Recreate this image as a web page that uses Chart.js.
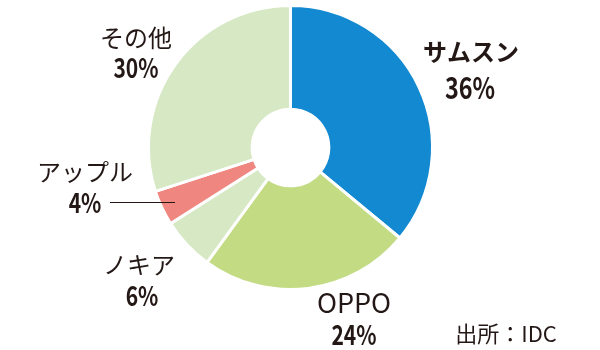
<!DOCTYPE html>
<html>
<head>
<meta charset="utf-8">
<script src="https://cdn.jsdelivr.net/npm/chart.js@4.4.0/dist/chart.umd.min.js"></script>
<style>
    html, body { margin: 0; padding: 0; background: #fff; }
    #wrap { width: 600px; height: 350px; position: relative; }
</style>
</head>
<body>
<div id="wrap"><canvas id="shareChart"></canvas></div>
<script>
const companies = ['サムスン', 'OPPO', 'ノキア', 'アップル', 'その他'];
const shares = [36, 24, 6, 4, 30];
const sliceColors = ['#1289d0', '#c3dc84', '#d6e8c4', '#ef8680', '#d6e8c4'];
const sourceNote = '出所：IDC';

const TEXT = '#231815';
const JP = '"Noto Sans CJK JP", "Noto Sans", sans-serif';

// label spots for each slice: [name x, name y, pct x, pct y]
const labelSpots = [
    [471, 52, 470, 88],
    [354, 303, 354, 335],
    [139, 265, 142, 296],
    [85, 172, 85, 203],
    [136, 38, 136, 68]
];

// condensed percent text: squeeze horizontally
function narrowText(ctx, str, x, y, squeeze) {
    ctx.save();
    ctx.translate(x, y);
    ctx.scale(squeeze, 1);
    ctx.fillText(str, 0, 0);
    ctx.restore();
}

const labelPlugin = {
    id: 'sliceLabels',
    afterDraw(chart) {
        const ctx = chart.ctx;
        ctx.save();
        ctx.fillStyle = TEXT;
        ctx.textAlign = 'center';
        ctx.textBaseline = 'middle';
        companies.forEach((name, i) => {
            const p = labelSpots[i];
            ctx.font = (i === 0 ? 'bold ' : '') + '24px ' + JP;
            if (name === 'OPPO') ctx.font = '27px ' + JP;
            ctx.fillText(name, p[0], p[1]);
            ctx.font = 'bold ' + (i === 0 ? 30 : 27) + 'px ' + JP;
            narrowText(ctx, shares[i] + '%', p[2], p[3], 0.78);
        });
        // leader line for the small apple slice
        ctx.strokeStyle = TEXT;
        ctx.lineWidth = 1;
        ctx.beginPath();
        ctx.moveTo(110, 202.5);
        ctx.lineTo(175, 202.5);
        ctx.stroke();
        ctx.font = '22px ' + JP;
        ctx.fillText(sourceNote, 506, 334);
        ctx.restore();
    }
};

new Chart(document.getElementById('shareChart'), {
    type: 'doughnut',
    data: {
        labels: companies,
        datasets: [{
            data: shares,
            backgroundColor: sliceColors,
            borderColor: '#ffffff',
            borderWidth: 3
        }]
    },
    options: {
        responsive: true,
        maintainAspectRatio: false,
        animation: false,
        cutout: '27%',
        layout: { padding: { left: 147, right: 166, top: 4, bottom: 59 } },
        plugins: {
            legend: { display: false },
            tooltip: { enabled: false }
        }
    },
    plugins: [labelPlugin]
});
</script>
</body>
</html>
